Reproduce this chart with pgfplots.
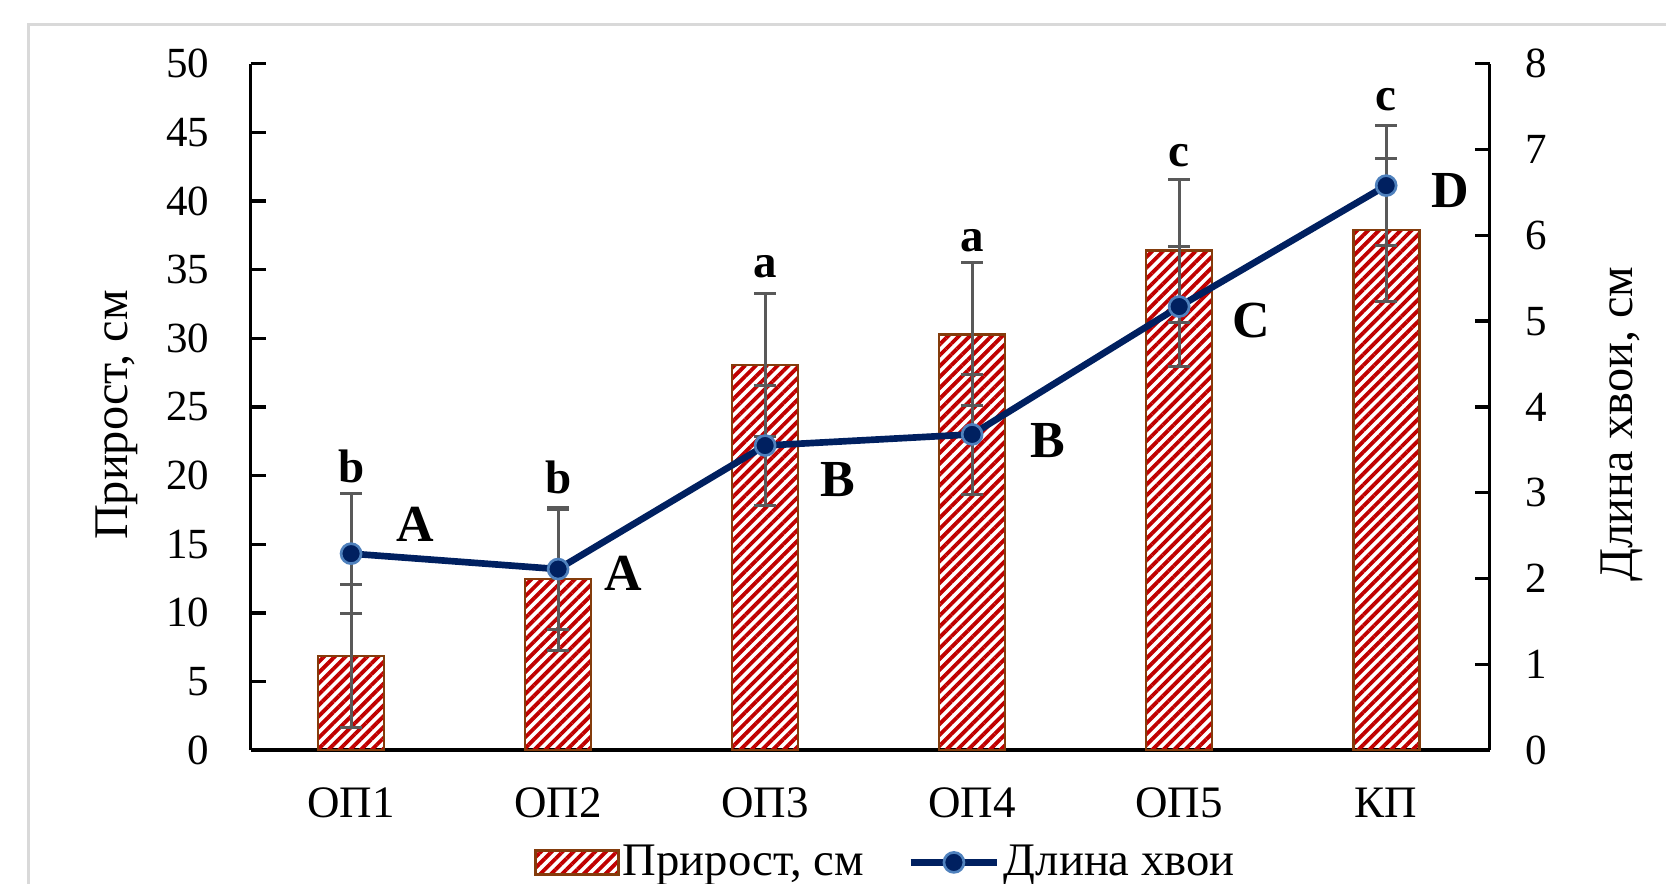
\documentclass[border=0pt]{standalone}
\usepackage{fontspec}
\setmainfont{Liberation Serif}
\usepackage{pgfplots}
\usepackage{pgfplotstable}
\pgfplotsset{compat=1.18}
\usetikzlibrary{patterns.meta}
\definecolor{barred}{RGB}{192,0,0}
\definecolor{barbrown}{RGB}{132,60,12}
\definecolor{navy}{RGB}{0,32,96}
\definecolor{mkblue}{RGB}{79,129,189}
\definecolor{errgray}{RGB}{89,89,89}
\definecolor{framegray}{RGB}{217,217,217}

\pgfplotstableread{
x y e
0 6.86 5.2
1 12.46 5.2
2 28.06 5.2
3 30.29 5.2
4 36.38 5.2
5 37.89 5.2
}\bardata

\pgfplotstableread{
x y e
0 2.29 0.7
1 2.11 0.7
2 3.55 0.7
3 3.68 0.7
4 5.17 0.7
5 6.58 0.7
}\linedata

\pgfplotsset{
  barlegend/.style={legend image code/.code={\draw[##1] (0pt,-3.6pt) rectangle (24.9pt,3.6pt);}},
  linelegend/.style={legend image code/.code={\draw[mark repeat=2,mark phase=2,##1] plot coordinates {(0pt,0pt) (13pt,0pt) (26pt,0pt)};}},
  common/.style={
    at={(75.2pt,39.87pt)}, anchor=south west,
    scale only axis, width=371.7pt, height=205.9pt,
    xmin=-0.485, xmax=5.5, clip=false,
    axis line style={line width=1pt, black, -},
    tick align=inside, major tick length=4.5pt,
    /pgf/number format/assume math mode=true,
    ticklabel style={font=\fontsize{12.9}{14}\selectfont},
  },
}

\begin{document}
\begin{tikzpicture}
\useasboundingbox (0pt,0pt) rectangle (499.8pt,264.9pt);
\draw[framegray, line width=0.9pt] (8.4pt,-5pt) -- (8.4pt,257.4pt) -- (510pt,257.4pt);

\begin{axis}[
  common,
  ymin=0, ymax=50,
  axis x line*=bottom, axis y line*=left,
  xtick={0,...,5}, xticklabels={ОП1,ОП2,ОП3,ОП4,ОП5,КП},
  major x tick style={draw=none},
  xticklabel style={font=\fontsize{13.5}{15}\selectfont, yshift=-7.8pt},
  ytick={0,5,...,50},
  y tick style={line width=1pt, black},
  yticklabel style={xshift=-8.9pt},
  ylabel={Прирост, см},
  ylabel style={font=\fontsize{14.5}{16}\selectfont, at={(axis description cs:-0.108,0.488)}, anchor=center},
  legend style={at={(axis description cs:0.2286,-0.128)}, anchor=north west,
    draw=none, fill=none, inner sep=0pt, outer sep=0pt,
    nodes={inner xsep=1pt},
    font=\fontsize{14}{15}\selectfont,
    /tikz/every even column/.append style={column sep=12pt}},
  legend columns=2,
]
\addplot[ybar, bar width=19.8pt, draw=barbrown, line width=0.8pt,
  pattern={Lines[angle=45,distance=2.3pt,line width=1.15pt]}, pattern color=barred,
  forget plot,
  error bars/.cd, y dir=both, y explicit,
  error bar style={errgray, line width=0.9pt},
  error mark options={rotate=90, errgray, mark size=3.3pt, line width=0.9pt}]
  table[x=x, y=y, y error=e]{\bardata};

\addlegendimage{draw=barbrown, line width=0.8pt,
  pattern={Lines[angle=45,distance=2.3pt,line width=1.15pt]}, pattern color=barred, barlegend}
\addlegendentry{Прирост, см}
\addlegendimage{navy, line width=2pt, mark=*, mark size=3pt,
  mark options={fill=navy, draw=mkblue, line width=0.8pt}, linelegend}
\addlegendentry{Длина хвои}

\begin{scope}[every node/.style={font=\bfseries\fontsize{14.1}{16}\selectfont, anchor=base}]
\node at (axis cs:0,19.46) {b};
\node at (axis cs:1,18.73) {b};
\node at (axis cs:2,34.46) {a};
\node at (axis cs:3,36.29) {a};
\node at (axis cs:4,42.55) {c};
\node at (axis cs:5,46.63) {c};
\end{scope}
\begin{scope}[every node/.style={font=\bfseries\fontsize{15.6}{17}\selectfont, anchor=base}]
\node at (axis cs:0.309,15.23) {A};
\node at (axis cs:1.316,11.66) {A};
\node at (axis cs:2.350,18.44) {B};
\node at (axis cs:3.367,21.35) {B};
\node at (axis cs:4.347,30.09) {C};
\node at (axis cs:5.309,39.56) {D};
\end{scope}
\end{axis}

\begin{axis}[
  common,
  ymin=0, ymax=8,
  axis x line=none, axis y line*=right,
  ytick={0,...,8},
  y tick style={line width=1pt, black},
  yticklabel style={xshift=7.2pt},
  ylabel={Длина хвои, см},
  ylabel style={font=\fontsize{14.5}{16}\selectfont, at={(axis description cs:1.107,0.475)}, anchor=center},
]
\addplot[navy, line width=2pt, mark=*, mark size=3pt,
  mark options={fill=navy, draw=mkblue, line width=0.8pt},
  error bars/.cd, y dir=both, y explicit,
  error bar style={errgray, line width=0.9pt, solid},
  error mark options={rotate=90, errgray, mark size=3.3pt, line width=0.9pt}]
  table[x=x, y=y, y error=e]{\linedata};
\end{axis}
\end{tikzpicture}
\end{document}
